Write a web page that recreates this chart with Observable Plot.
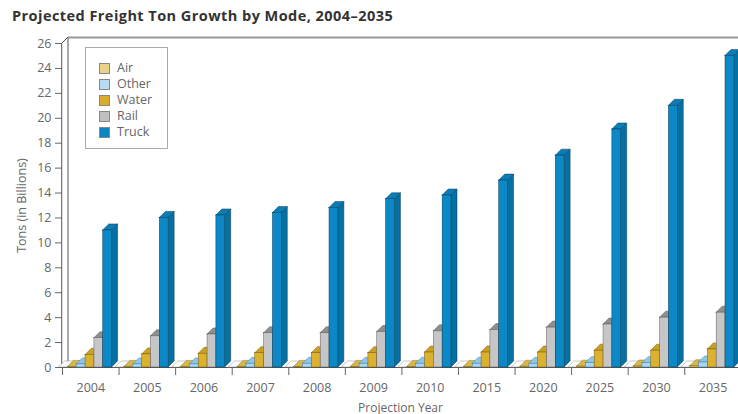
<!DOCTYPE html>
<html><head><meta charset="utf-8">
<script src="https://cdn.jsdelivr.net/npm/d3@7"></script>
<script src="https://cdn.jsdelivr.net/npm/@observablehq/plot@0.6"></script>
<style>
body{margin:0;background:#fff;font-family:"Open Sans",sans-serif;}
#wrap{position:relative;width:738px;height:414px;overflow:hidden;background:#fff;}
#title{position:absolute;left:12px;top:6px;font-weight:700;font-size:14.5px;color:#333;letter-spacing:0.45px;}
#chart{position:absolute;left:0;top:28px;}
#legend{position:absolute;left:85px;top:47px;width:83px;height:102px;border:1px solid #aaa;background:#fff;box-sizing:border-box;padding-top:12px;}
.li{height:16px;line-height:16px;font-size:12.5px;color:#666;position:relative;padding-left:31px;}
.sw{position:absolute;left:13px;top:3px;width:9px;height:9px;border:1px solid #888;}
</style></head>
<body>
<div id="wrap">
  <div id="title">Projected Freight Ton Growth by Mode, 2004–2035</div>
  <div id="chart"></div>
  <div id="legend"></div>
</div>
<script>
// ---- data ----
const years = ["2004","2005","2006","2007","2008","2009","2010","2015","2020","2025","2030","2035"];
const blank = [0,0,0,0,0,0,0,0,0,0,0,0];
const air   = [0.05,0.05,0.05,0.05,0.05,0.05,0.05,0.05,0.06,0.07,0.08,0.1];
const other = [0.25,0.25,0.25,0.3,0.3,0.3,0.3,0.3,0.3,0.35,0.35,0.4];
const water = [1.0,1.05,1.1,1.15,1.15,1.15,1.2,1.2,1.2,1.35,1.35,1.45];
const rail  = [2.35,2.5,2.65,2.75,2.75,2.85,2.9,3.0,3.2,3.45,4.0,4.4];
const truck = [11.0,12.0,12.2,12.4,12.8,13.5,13.8,15.0,17.0,19.1,21.0,25.0];
const legendNames = ["Air","Other","Water","Rail","Truck"];
const yTicks = [0,2,4,6,8,10,12,14,16,18,20,22,24,26];

// ---- styles ----
const seriesList = [
  {name:"", values: blank, front:"#ffffff", side:"#eeeeee", top:"#ffffff", stroke:"#8a8a8a"},
  {name:"Air", values: air, front:"#dfbf55", side:"#c3a032", top:"#d9b848", stroke:"#8a7020", legend:"#e9d38c"},
  {name:"Other", values: other, front:"#a9d6f0", side:"#6aa9d6", top:"#8cc6ea", stroke:"#4a7fa6", legend:"#b7dcf2"},
  {name:"Water", values: water, front:"#dcb12f", side:"#b88f18", top:"#c9a020", stroke:"#7a5d0a", legend:"#d8ac2c"},
  {name:"Rail", values: rail, front:"#c6c6c6", side:"#9c9c9c", top:"#8e8e8e", stroke:"#5a5a5a", legend:"#c0c0c0"},
  {name:"Truck", values: truck, front:"#0a89c6", side:"#0670a3", top:"#0a7db6", stroke:"#063a58", legend:"#0a86c2"}
];

// ---- layout ----
const W = 738, H = 386, mL = 62, mR = 0, mT = 15, mB = 47;
const xDom = [-0.5, 11.45], yDom = [0, 26];
const pxX = (W - mL - mR) / (xDom[1] - xDom[0]);
const pxY = (H - mT - mB) / (yDom[1] - yDom[0]);
const DX = 6 / pxX, DY = 6 / pxY;          // 3D depth offset
const BW = 8.83 / pxX, OFF = -3.4 / pxX;   // bar width and group offset

const fronts = [], sides = [], tops = [];
seriesList.forEach((s, k) => {
  s.values.forEach((v, i) => {
    const x0 = i - 0.5 + OFF + k * BW, x1 = x0 + BW, id = k + "-" + i;
    fronts.push({k, x0, x1, b: 0, v});
    sides.push({k, id, x: x1, y1: 0, y2: v}, {k, id, x: x1 + DX, y1: DY, y2: v + DY});
    tops.push({k, id, x: x0, y1: v, y2: v}, {k, id, x: x0 + DX, y1: v, y2: v + DY},
              {k, id, x: x1, y1: v, y2: v + DY}, {k, id, x: x1 + DX, y1: v + DY, y2: v + DY});
  });
});

const wall = [{x: xDom[0], y1: 0, y2: yDom[1]}, {x: xDom[0] + DX, y1: DY, y2: yDom[1] + DY}];

const marks = [
  Plot.areaY(wall, {x:"x", y1:"y1", y2:"y2", fill:"#fff", stroke:"#555", strokeWidth:1}),
  Plot.ruleY([yDom[1] + DY], {x1: xDom[0] + DX, x2: xDom[1], stroke:"#999", strokeWidth:2}),
  Plot.ruleY([0], {x1: xDom[0], x2: xDom[1], stroke:"#555", strokeWidth:1})
];
seriesList.forEach((s, k) => marks.push(Plot.areaY(sides.filter(d => d.k === k), {x:"x", y1:"y1", y2:"y2", z:"id", fill:s.side, stroke:s.stroke, strokeWidth:0.5})));
seriesList.forEach((s, k) => marks.push(Plot.areaY(tops.filter(d => d.k === k), {x:"x", y1:"y1", y2:"y2", z:"id", fill:s.top, stroke:s.stroke, strokeWidth:0.5})));
seriesList.forEach((s, k) => marks.push(Plot.rect(fronts.filter(d => d.k === k), {x1:"x0", x2:"x1", y1:"b", y2:"v", fill:s.front, stroke:s.stroke, strokeWidth:0.5})));

marks.push(
  Plot.axisY(yTicks, {tickSize: 7, tickPadding: 4, fontSize: 12.5, label: "Tons (in Billions)", labelAnchor: "center", labelOffset: 45, labelArrow: "none", color: "#666"}),
  Plot.axisX(d3.range(years.length), {tickSize: 0, tickPadding: 16, fontSize: 12.5, tickFormat: i => years[i], label: null, color: "#666"}),
  Plot.axisX(d3.range(years.length).map(i => i - 0.5), {tickSize: 8, tickFormat: () => "", label: "Projection Year", labelAnchor: "center", labelOffset: 44, labelArrow: "none", fontSize: 12, color: "#666"})
);

const chart = Plot.plot({
  width: W, height: H, marginLeft: mL, marginRight: mR, marginTop: mT, marginBottom: mB,
  x: {domain: xDom}, y: {domain: yDom},
  style: {fontFamily: "Open Sans, sans-serif", fontSize: "12.5px", color: "#666", background: "transparent", overflow: "visible"},
  marks
});
document.getElementById("chart").appendChild(chart);

// ---- legend ----
const lg = document.getElementById("legend");
legendNames.forEach(n => {
  const s = seriesList.find(d => d.name === n);
  const row = document.createElement("div");
  row.className = "li";
  row.innerHTML = `<span class="sw" style="background:${s.legend}"></span>${n}`;
  lg.appendChild(row);
});
</script>
</body></html>
